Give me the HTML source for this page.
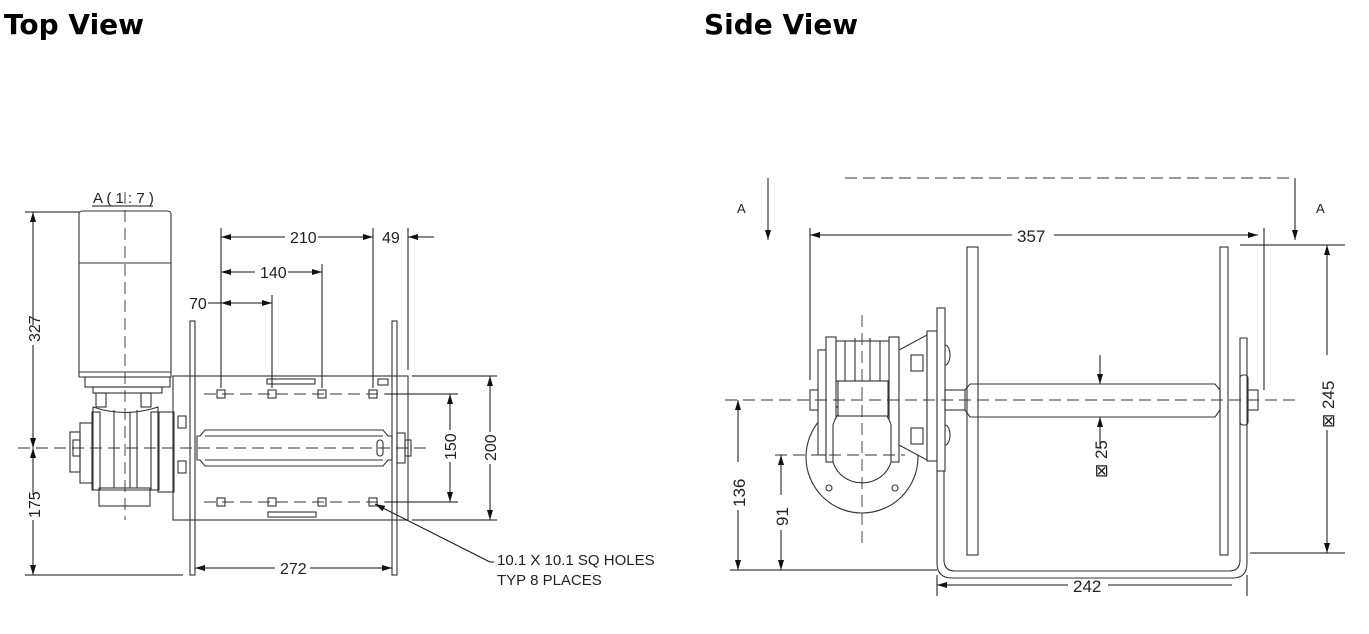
<!DOCTYPE html>
<html><head><meta charset="utf-8"><style>
html,body{margin:0;padding:0;background:#fff;}
svg{display:block;}
text{font-family:"Liberation Sans",sans-serif;fill:#222;}
.t{font-size:16px;}
.h{font-family:"DejaVu Sans","Liberation Sans",sans-serif;font-weight:bold;font-size:28px;fill:#000;}
</style></head><body>
<svg width="1369" height="634" viewBox="0 0 1369 634" xmlns="http://www.w3.org/2000/svg">
<defs>
<marker id="a" viewBox="0 0 10 6" refX="10" refY="3" markerWidth="10" markerHeight="6" orient="auto-start-reverse" markerUnits="userSpaceOnUse"><path d="M0,0L10,3L0,6z" fill="#111"/></marker>
</defs>
<text class="h" x="4" y="34">Top View</text>
<text class="h" x="704" y="34">Side View</text>

<g stroke="#333" stroke-width="1.1" fill="none">
<!-- ===== TOP VIEW ===== -->
<path d="M79,214 Q79,211 83,211 L167,211 Q171,211 171,214 L171,377 L79,377 Z"/>
<line x1="79" y1="263" x2="171" y2="263"/>
<line x1="79" y1="372" x2="171" y2="372"/>
<rect x="85" y="377" width="85" height="10"/>
<rect x="93" y="387" width="69" height="6"/>
<rect x="96" y="393" width="10" height="14"/><rect x="141" y="393" width="10" height="14"/>
<path d="M93,407 Q125,418 158,407 L158,490 L93,490 Z"/>
<rect x="92" y="412" width="8" height="78"/><rect x="151" y="412" width="8" height="78"/>
<line x1="114" y1="410" x2="114" y2="488"/><line x1="130" y1="412" x2="130" y2="488"/><line x1="137" y1="410" x2="137" y2="488"/>
<rect x="99" y="488" width="51" height="18"/>
<rect x="80" y="423" width="12" height="60"/>
<rect x="70" y="432" width="10" height="40"/>
<rect x="73" y="440" width="7" height="16"/>
<rect x="158" y="412" width="16" height="80"/>
<rect x="173" y="376" width="235" height="144"/>
<rect x="190" y="321" width="5" height="254"/>
<rect x="392" y="321" width="5" height="254"/>
<rect x="178" y="416" width="8" height="12"/><rect x="178" y="461" width="8" height="12"/>
<path d="M197,436 L200,436 L205,430 L383,430 L388,436 L392,436 L392,460 L388,460 L383,466 L205,466 L200,460 L197,460 Z"/>
<line x1="205" y1="436" x2="383" y2="436"/><line x1="205" y1="460" x2="383" y2="460"/>
<rect x="377" y="440" width="6" height="16" rx="3"/>
<rect x="397" y="433" width="8" height="30"/><rect x="405" y="440" width="6" height="16"/>
<rect x="217" y="390" width="8" height="8"/><rect x="268" y="390" width="8" height="8"/><rect x="318" y="390" width="8" height="8"/><rect x="369" y="390" width="8" height="8"/>
<rect x="217" y="498" width="8" height="8"/><rect x="268" y="498" width="8" height="8"/><rect x="318" y="498" width="8" height="8"/><rect x="369" y="498" width="8" height="8"/>
<rect x="267" y="379" width="48" height="5"/><rect x="268" y="512" width="48" height="5"/><rect x="378" y="379" width="10" height="6"/>
</g>
<g stroke="#333" stroke-width="0.9" fill="none" stroke-dasharray="12,6">
<line x1="125" y1="192" x2="125" y2="520"/>
<line x1="18" y1="448" x2="430" y2="448"/>
<line x1="204" y1="394" x2="408" y2="394"/>
<line x1="204" y1="502" x2="408" y2="502"/>
</g>
<g stroke="#111" stroke-width="1" fill="none">
<line x1="92" y1="206" x2="153" y2="206"/>
<line x1="25" y1="212" x2="79" y2="212"/>
<line x1="25" y1="575" x2="183" y2="575"/>
<line x1="33" y1="212" x2="33" y2="325" marker-start="url(#a)"/><line x1="33" y1="345" x2="33" y2="448" marker-end="url(#a)"/>
<line x1="33" y1="448" x2="33" y2="495" marker-start="url(#a)"/><line x1="33" y1="520" x2="33" y2="575" marker-end="url(#a)"/>
<line x1="221" y1="228" x2="221" y2="388"/>
<line x1="272" y1="295" x2="272" y2="388"/>
<line x1="322" y1="264" x2="322" y2="388"/>
<line x1="373" y1="228" x2="373" y2="388"/>
<line x1="408" y1="228" x2="408" y2="370"/>
<line x1="221" y1="237" x2="285" y2="237" marker-start="url(#a)"/><line x1="318" y1="237" x2="373" y2="237" marker-end="url(#a)"/>
<line x1="408" y1="237" x2="434" y2="237" marker-start="url(#a)"/>
<line x1="221" y1="272" x2="255" y2="272" marker-start="url(#a)"/><line x1="288" y1="272" x2="322" y2="272" marker-end="url(#a)"/>
<line x1="208" y1="303" x2="221" y2="303"/><line x1="221" y1="303" x2="272" y2="303" marker-start="url(#a)" marker-end="url(#a)"/>
<line x1="412" y1="376" x2="497" y2="376"/><line x1="412" y1="520" x2="497" y2="520"/>
<line x1="386" y1="394" x2="458" y2="394"/><line x1="386" y1="502" x2="458" y2="502"/>
<line x1="450" y1="394" x2="450" y2="430" marker-start="url(#a)"/><line x1="450" y1="462" x2="450" y2="502" marker-end="url(#a)"/>
<line x1="490" y1="376" x2="490" y2="432" marker-start="url(#a)"/><line x1="490" y1="464" x2="490" y2="520" marker-end="url(#a)"/>
<line x1="195" y1="568" x2="275" y2="568" marker-start="url(#a)"/><line x1="310" y1="568" x2="392" y2="568" marker-end="url(#a)"/>
<line x1="490" y1="562" x2="375" y2="504" marker-end="url(#a)"/>
<line x1="490" y1="562" x2="494" y2="562"/>
</g>
<g class="t">
<text x="93" y="203" font-size="15">A ( 1 : 7 )</text>
<text x="290" y="243" font-size="16">210</text>
<text x="382" y="243" font-size="16">49</text>
<text x="260" y="278" font-size="16">140</text>
<text x="189" y="309" font-size="16">70</text>
<text x="280" y="574" font-size="16">272</text>
<text transform="translate(40,342) rotate(-90)" font-size="16">327</text>
<text transform="translate(40,518) rotate(-90)" font-size="16">175</text>
<text transform="translate(456,460) rotate(-90)" font-size="16">150</text>
<text transform="translate(496,461) rotate(-90)" font-size="16">200</text>
<text x="497" y="565" font-size="15">10.1 X 10.1 SQ HOLES</text>
<text x="497" y="585" font-size="15">TYP 8 PLACES</text>
</g>

<!-- ===== SIDE VIEW ===== -->
<g stroke="#333" stroke-width="1.1" fill="#fff">
<circle cx="862" cy="457" r="56"/>
<circle cx="829" cy="488" r="3"/><circle cx="895" cy="488" r="3"/>
<rect x="818" y="350" width="8" height="105"/>
<rect x="826" y="337" width="10" height="125"/>
<rect x="889" y="337" width="10" height="125"/>
<rect x="836" y="341" width="53" height="40"/>
<path d="M833,425 A30,30 0 0 1 891,425 L891,462 A30,28 0 0 1 833,462 Z"/>
<rect x="838" y="381" width="50" height="35"/>
<rect x="810" y="390" width="8" height="20"/>
<path d="M899,350 L927,335 L927,460 L899,445 Z"/>
<rect x="911" y="355" width="12" height="16"/><rect x="911" y="428" width="12" height="16"/>
<rect x="927" y="331" width="10" height="130"/>
<rect x="937" y="308" width="8" height="163"/>
</g>
<g stroke="#333" stroke-width="1.1" fill="none">
<line x1="845" y1="341" x2="845" y2="381"/><line x1="855" y1="338" x2="855" y2="381"/><line x1="870" y1="338" x2="870" y2="381"/><line x1="880" y1="341" x2="880" y2="381"/>
<path d="M945,345 a5,10 0 0 1 0,20"/><path d="M945,425 a5,10 0 0 1 0,20"/>
<rect x="945" y="390" width="20" height="20"/>
<path d="M965,390 L970,384 L1215,384 L1220,390 L1220,410 L1215,417 L970,417 L965,410"/>
<rect x="967" y="247" width="11" height="308"/>
<rect x="1220" y="247" width="8" height="308"/>
<rect x="1240" y="375" width="8" height="50" rx="3"/>
<rect x="1248" y="390" width="10" height="20"/>
<path d="M937,471 L937,563 Q937,578 952,578 L1233,578 Q1247,578 1247,563 L1247,338 L1240,338 L1240,560 Q1240,571 1229,571 L955,571 Q944,571 944,560 L944,471"/>
</g>
<g stroke="#333" stroke-width="0.9" fill="none" stroke-dasharray="12,6">
<line x1="845" y1="178" x2="1295" y2="178"/>
<line x1="862" y1="315" x2="862" y2="545"/>
<line x1="725" y1="400" x2="1295" y2="400"/>
<line x1="775" y1="455" x2="905" y2="455"/>
</g>
<g stroke="#111" stroke-width="1" fill="none">
<line x1="1295" y1="178" x2="1295" y2="240" marker-end="url(#a)"/>
<line x1="768" y1="178" x2="768" y2="240" marker-end="url(#a)"/>
<line x1="810" y1="228" x2="810" y2="380"/><line x1="1264" y1="228" x2="1264" y2="390"/>
<line x1="810" y1="235" x2="1012" y2="235" marker-start="url(#a)"/><line x1="1054" y1="235" x2="1258" y2="235" marker-end="url(#a)"/>
<line x1="1240" y1="245" x2="1345" y2="245"/><line x1="1250" y1="553" x2="1345" y2="553"/>
<line x1="1327" y1="245" x2="1327" y2="355" marker-start="url(#a)"/><line x1="1327" y1="430" x2="1327" y2="553" marker-end="url(#a)"/>
<line x1="1100" y1="355" x2="1100" y2="384" marker-end="url(#a)"/><line x1="1100" y1="447" x2="1100" y2="417" marker-end="url(#a)"/>
<line x1="730" y1="570" x2="937" y2="570"/>
<line x1="738" y1="400" x2="738" y2="462" marker-start="url(#a)"/><line x1="738" y1="510" x2="738" y2="570" marker-end="url(#a)"/>
<line x1="781" y1="455" x2="781" y2="495" marker-start="url(#a)"/><line x1="781" y1="530" x2="781" y2="570" marker-end="url(#a)"/>
<line x1="937" y1="575" x2="937" y2="596"/><line x1="1247" y1="575" x2="1247" y2="596"/>
<line x1="937" y1="585" x2="1068" y2="585" marker-start="url(#a)"/><line x1="1108" y1="585" x2="1232" y2="585"/>
</g>
<g class="t">
<text x="737" y="213" font-size="13">A</text>
<text x="1316" y="213" font-size="13">A</text>
<text x="1017" y="242" font-size="17">357</text>
<text x="1073" y="592" font-size="17">242</text>
<text transform="translate(745,507) rotate(-90)" font-size="17">136</text>
<text transform="translate(788,526) rotate(-90)" font-size="17">91</text>
<text transform="translate(1107,478) rotate(-90)" font-size="17">⊠ 25</text>
<text transform="translate(1334,428) rotate(-90)" font-size="17">⊠ 245</text>
</g>
</svg>
</body></html>
